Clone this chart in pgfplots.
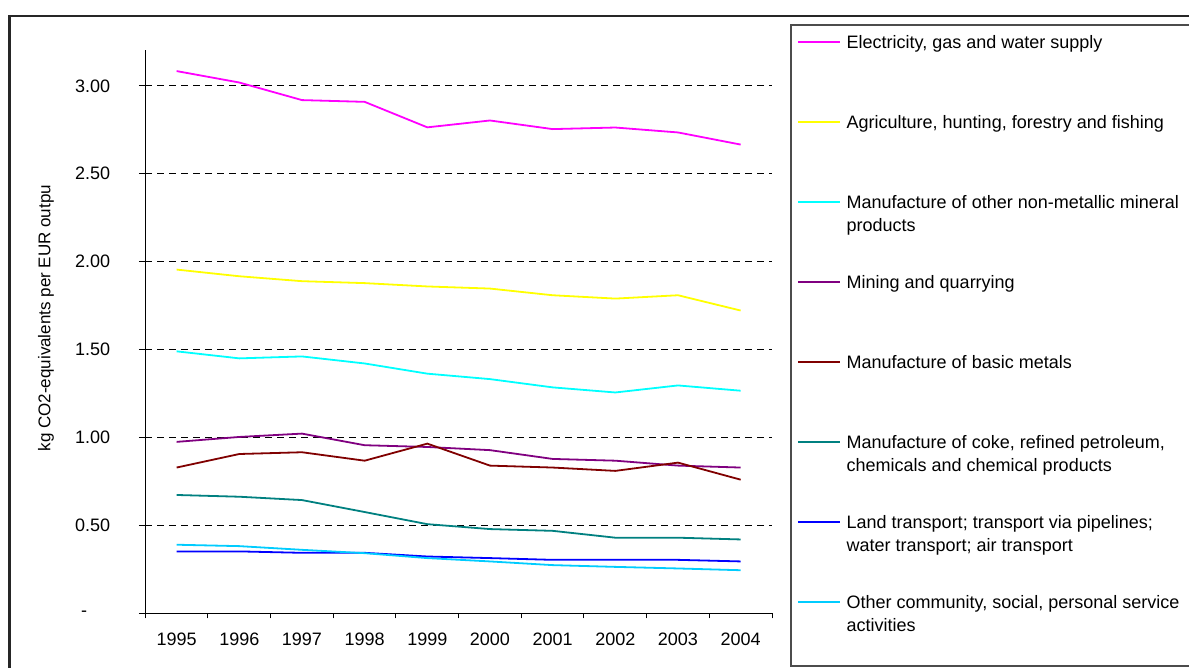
\documentclass[border=0pt]{standalone}
\usepackage{pgfplots}
\pgfplotsset{compat=1.18}
\usepackage{pgfplotstable}
\usepackage{fontspec}
\setmainfont{Liberation Sans}
\definecolor{cMag}{HTML}{FF00FF}
\definecolor{cYel}{HTML}{FFFF00}
\definecolor{cCya}{HTML}{00FFFF}
\definecolor{cPur}{HTML}{800080}
\definecolor{cRed}{HTML}{800000}
\definecolor{cTea}{HTML}{008080}
\definecolor{cBlu}{HTML}{0000FF}
\definecolor{cSky}{HTML}{00CCFF}
\pgfplotstableread{
x  elec  agri  nonmet mining metals coke  land  other
0  3.084 1.955 1.490  0.975  0.829  0.673 0.352 0.390
1  3.019 1.917 1.450  1.003  0.906  0.663 0.352 0.382
2  2.919 1.889 1.461  1.022  0.916  0.644 0.344 0.361
3  2.909 1.878 1.421  0.956  0.868  0.576 0.344 0.342
4  2.764 1.859 1.363  0.946  0.965  0.507 0.323 0.314
5  2.803 1.847 1.332  0.928  0.840  0.479 0.314 0.295
6  2.754 1.809 1.285  0.878  0.829  0.469 0.304 0.274
7  2.763 1.790 1.256  0.868  0.810  0.430 0.304 0.264
8  2.735 1.809 1.296  0.840  0.857  0.430 0.304 0.255
9  2.666 1.722 1.266  0.829  0.760  0.420 0.295 0.245
}\datatable
\begin{document}
\fontsize{18}{23.3}\selectfont
\begin{tikzpicture}[x=1pt,y=1pt]
\useasboundingbox (0,0) rectangle (1189,668);
\clip (0,0) rectangle (1189,668);
\draw[black!85, line width=2.5pt] (9.5,-20) -- (9.5,652) -- (1220,652);
\draw[black!70, line width=1.2pt] (1220,2) -- (791,2) -- (791,643) -- (1220,643);
\begin{axis}[
  at={(145.3pt,54.7pt)}, anchor=south west, scale only axis,
  width=626.7pt, height=563.3pt,
  xmin=-0.5, xmax=9.5, ymin=0, ymax=3.204,
  axis x line*=bottom, axis y line*=left,
  axis line style={black, line width=1.2pt},
  xtick={0,...,9},
  xticklabels={1995,1996,1997,1998,1999,2000,2001,2002,2003,2004},
  major x tick style={draw=none},
  minor xtick={-0.5,0.5,...,9.5},
  minor tick length=5pt,
  minor x tick style={yshift=-2.5pt, black, line width=1pt},
  ytick={0,0.5,1,1.5,2,2.5,3},
  yticklabels={{-\hspace*{23pt}},0.50,1.00,1.50,2.00,2.50,3.00},
  major tick length=13pt, tick align=center,
  major y tick style={black, line width=1pt},
  yticklabel style={inner sep=0pt, anchor=east, xshift=-28.5pt},
  xticklabel style={inner sep=0pt, anchor=north, yshift=-13pt},
  ymajorgrids,
  grid style={black, line width=1pt, dash pattern=on 7pt off 5pt},
  ylabel={kg CO2-equivalents per EUR outpu},
  ylabel style={at={(axis description cs:-0.1584,0.524)}, anchor=center,
    font=\fontsize{17}{21}\selectfont},
  legend style={at={(axis description cs:1.0399,1.0266)}, anchor=north west,
    draw=none, fill=none, inner sep=0pt,
    nodes={inner sep=0pt, text height=13pt, text depth=67pt},
    cells={anchor=base west},
    column sep=6pt, row sep=0pt},
  legend image code/.code={\draw[#1, line width=1.5pt] (0pt,6pt) -- (42pt,6pt);},
  every axis plot/.append style={line width=1.8pt, mark=none},
]
\addplot[cMag] table[x=x,y=elec]{\datatable};
\addlegendentry{\parbox[t]{345pt}{Electricity, gas and water supply}}
\addplot[cYel] table[x=x,y=agri]{\datatable};
\addlegendentry{\parbox[t]{345pt}{Agriculture, hunting, forestry and fishing}}
\addplot[cCya] table[x=x,y=nonmet]{\datatable};
\addlegendentry{\parbox[t]{345pt}{Manufacture of other non-metallic mineral\\products}}
\addplot[cPur] table[x=x,y=mining]{\datatable};
\addlegendentry{\parbox[t]{345pt}{Mining and quarrying}}
\addplot[cRed] table[x=x,y=metals]{\datatable};
\addlegendentry{\parbox[t]{345pt}{Manufacture of basic metals}}
\addplot[cTea] table[x=x,y=coke]{\datatable};
\addlegendentry{\parbox[t]{345pt}{Manufacture of coke, refined petroleum,\\chemicals and chemical products}}
\addplot[cBlu] table[x=x,y=land]{\datatable};
\addlegendentry{\parbox[t]{345pt}{Land transport; transport via pipelines;\\water transport; air transport}}
\addplot[cSky] table[x=x,y=other]{\datatable};
\addlegendentry{\parbox[t]{345pt}{Other community, social, personal service\\activities}}
\end{axis}
\end{tikzpicture}
\end{document}
